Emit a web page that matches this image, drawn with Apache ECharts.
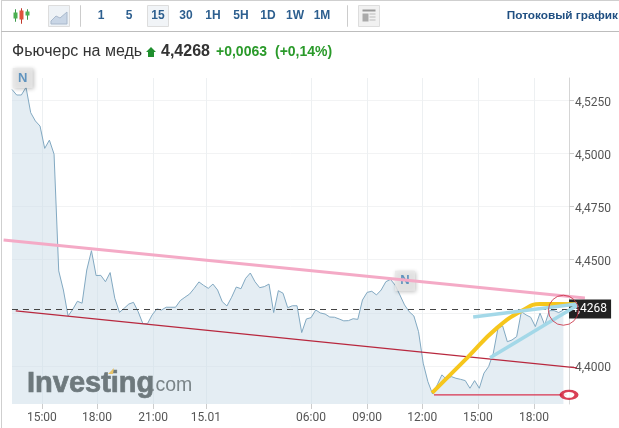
<!DOCTYPE html>
<html>
<head>
<meta charset="utf-8">
<style>html,body{margin:0;padding:0;background:#fff}#chart{width:619px;height:428px}</style>
<script src="https://cdn.jsdelivr.net/npm/echarts@6/dist/echarts.min.js"></script>
</head>
<body>
<div id="chart"></div>
<script>
// 15 minute closes, one per bar
var prices = [4.5300,4.5274,4.5274,4.5310,4.5191,4.5152,4.5128,4.5023,4.5062,4.4996,
  4.4447,4.4357,4.4235,4.4266,4.4304,4.4295,4.4451,4.4542,4.4425,4.4426,
  4.4396,4.4439,4.4318,4.4252,4.4271,4.4291,4.4299,4.4255,4.4199,4.4199,
  4.4240,4.4268,4.4263,4.4276,4.4276,4.4276,4.4307,4.4323,4.4338,4.4365,
  4.4395,4.4379,4.4365,4.4385,4.4357,4.4302,4.4282,4.4323,4.4371,4.4363,
  4.4412,4.4437,4.4396,4.4368,4.4373,4.4385,4.4251,4.4354,4.4342,4.4274,
  4.4283,4.4283,4.4157,4.4221,4.4227,4.4263,4.4249,4.4244,4.4230,4.4229,
  4.4221,4.4212,4.4213,4.4222,4.4219,4.4310,4.4346,4.4351,4.4334,4.4357,
  4.4396,4.4407,4.4380,4.4334,4.4287,4.4255,4.4235,4.4161,4.4013,4.3926,
  4.3868,4.3911,4.3958,4.3937,4.3950,4.3942,4.3937,4.3931,4.3895,4.3931,
  4.3895,4.3966,4.3997,4.4060,4.4177,4.4188,4.4114,4.4122,4.4138,4.4255,
  4.4240,4.4229,4.4185,4.4248,4.4193,4.4260,4.4260,4.4251,4.4263];
var lastPrice = 4.4268;

var xTickBars = [6.4,18.2,30.2,41.5,64,76,87.8,99.7,111.7];
var xTickLabels = ['15:00','18:00','21:00','15.01','06:00','09:00','12:00','15:00','18:00'];
var yTicks = [4.4000,4.4250,4.4500,4.4750,4.5000,4.5250];
var yTickLabels = ['4,4000','','4,4500','4,4750','4,5000','4,5250'];
var periods = ['1','5','15','30','1H','5H','1D','1W','1M'];

// hand drawn lines, [bar, price]
var pinkLine = [[-1.8,4.4592],[122.6,4.4320]];
var redLine = [[0.8,4.4259],[120.9,4.3991]];
var yellowCurve = [[89.9,4.3873],[97.4,4.4038],[103.8,4.4179],[109.4,4.4263],[113,4.4291],[116.7,4.4291],[120.9,4.4290]];
var blueUpper = [[98.7,4.4230],[120.9,4.4291]];
var blueLower = [[102.3,4.4038],[121.1,4.4287]];
var lowLine = [[90.3,4.3864],[118.7,4.3864]];
var lowMark = [[119.2,4.3864]];
var lastCircle = [[118,4.4262]];
var newsFlags = [[2.3,4.5354],[84.1,4.4400]];

var yMin = 4.3821, yMax = 4.5354;

// drawings run past the plot, so they sit on a wider hidden grid with the same scale
function seg(data, color, width, z, smooth) {
  return {type:'line', xAxisIndex:1, yAxisIndex:1, data:data, symbol:'none', clip:false, silent:true,
    smooth:smooth||false, z:z, lineStyle:{color:color, width:width}};
}

var chrome = [];
function txt(x, y, s, font, color, align, stroke) {
  chrome.push({type:'text', x:x, y:y, z:20, silent:true, style:{text:s, font:font, fill:color, align:align||'left', verticalAlign:'middle',
    stroke:stroke||null, lineWidth:stroke?0.7:0}});
}
function box(x, y, w, h, fill, stroke) {
  chrome.push({type:'rect', silent:true, shape:{x:x+0.5,y:y+0.5,width:w,height:h}, style:{fill:fill, stroke:stroke||null, lineWidth:1}});
}
// frame
box(1,0,0,428,null,'#cfcfcf');
box(1,0,618,0,null,'#cfcfcf');
box(1,31,618,0,null,'#bdbdbd');
box(80,5,0,21,null,'#cccccc');
box(347,5,0,21,null,'#cccccc');
// candle icon
box(15,9,0,12,null,'#3c9a4c'); box(13,12,4,6,'#4caf50');
box(21,8,0,15,null,'#c0392b'); box(19,10,4,9,'#e0533d');
box(27,9,0,10,null,'#3c9a4c'); box(25,11,4,4,'#4caf50');
// area icon
box(48,5,21,21,'#eef2f6','#dddddd');
chrome.push({type:'polygon', silent:true, shape:{points:[[51,21],[56,16],[60,18],[67,12],[67,24],[51,24]]}, style:{fill:'#c9d6e6', stroke:'#a9b9cc'}});
// selected period
box(147,5,21,21,'#f1f4f7','#dddddd');
var periodX = [101,129,158,186,213,241,268,295,322];
periods.forEach(function (p, i) { txt(periodX[i], 16, p, 'bold 12px "Liberation Sans"', '#2d5f8f', 'center'); });
// news icon
box(358,5,21,21,'#f1f1f1','#dddddd');
box(362,9,13,2,'#999999'); box(362,13,6,8,'#aaaaaa'); box(369,13,6,1,'#bbbbbb'); box(369,16,6,1,'#bbbbbb'); box(369,19,6,1,'#bbbbbb');
txt(618, 16, 'Потоковый график', 'bold 11.8px "Liberation Sans"', '#1f4f82', 'right');
// quote line
txt(12, 52, 'Фьючерс на медь', '16px "Liberation Sans"', '#333333');
chrome.push({type:'polygon', silent:true, shape:{points:[[151,47],[156,52],[154,52],[154,57],[148,57],[148,52],[146,52]]}, style:{fill:'#1f8f2e'}});
txt(161, 52, '4,4268', 'bold 16px "Liberation Sans"', '#333333');
txt(216, 52, '+0,0063', 'bold 14px "Liberation Sans"', '#2a9a2a');
txt(275, 52, '(+0,14%)', 'bold 14px "Liberation Sans"', '#2a9a2a');
// logo
txt(27, 384, 'Investing', 'bold 29px "Liberation Sans"', '#6e797d', 'left', '#6e797d');
txt(150, 386, '.com', '19.5px "Liberation Sans"', '#7a8488');
chrome.push({type:'polygon', z:21, silent:true, shape:{points:[[108,374],[114,368],[113,374]]}, style:{fill:'#e8c46a'}});

var chart = echarts.init(document.getElementById('chart'), null, {renderer:'canvas'});
chart.setOption({
  animation:false,
  backgroundColor:'#ffffff',
  textStyle:{fontFamily:'Roboto'},
  graphic:chrome,
  grid:[{left:12, right:50, top:78, bottom:24}, {left:0, right:0, top:78, bottom:24}],
  xAxis:[{type:'value', min:0, max:119.2,
    axisLine:{show:false},
    axisTick:{show:true, customValues:xTickBars, length:5, lineStyle:{color:'#cccccc'}},
    splitLine:{show:true, lineStyle:{color:'#edf0f2', width:1}},
    axisLabel:{customValues:xTickBars, margin:8, fontSize:12, color:'#555555',
      formatter:function (v) { return xTickLabels[xTickBars.indexOf(v)]; }}},
    {type:'value', gridIndex:1, min:-2.568, max:129.9, show:false}],
  yAxis:[{type:'value', position:'right', min:yMin, max:yMax,
    axisLine:{show:true, onZero:false, lineStyle:{color:'#d5d5d5'}},
    axisTick:{show:true, customValues:yTicks, length:5, lineStyle:{color:'#cccccc'}},
    splitLine:{show:true, lineStyle:{color:'#f2f3f4', width:1}},
    axisLabel:{customValues:yTicks, margin:6,
      rich:{t:{fontSize:12, fontFamily:'Roboto', color:'#555555', padding:[5,0,0,0]}},
      formatter:function (v) { var s = yTickLabels[yTicks.indexOf(v)]; return s ? '{t|' + s + '}' : ''; }}},
    {type:'value', gridIndex:1, min:yMin, max:yMax, show:false}],
  series:[
    {type:'line', data:prices.map(function (p, i) { return [i, p]; }), symbol:'none', silent:true, z:2,
      lineStyle:{color:'#82a9c2', width:1},
      areaStyle:{color:'#c9dbe7', opacity:0.5, origin:'start'},
      markLine:{silent:true, symbol:'none', animation:false, precision:4,
        lineStyle:{color:'#444444', type:[6,5], width:1},
        label:{show:true, position:'end', distance:0, formatter:'4,4268', color:'#ffffff',
          backgroundColor:'#222222', padding:[4,4,3,2], fontSize:12, fontFamily:'Roboto'},
        data:[{yAxis:lastPrice}]}},
    {type:'scatter', xAxisIndex:1, yAxisIndex:1, data:newsFlags, symbol:'rect', symbolSize:[20,20], silent:true, z:3, clip:false,
      itemStyle:{color:'#e8e8e8', shadowBlur:4, shadowColor:'rgba(0,0,0,0.3)', shadowOffsetX:1, shadowOffsetY:1},
      label:{show:true, position:'inside', formatter:'N', color:'#3f7fb5', fontWeight:'bold', fontSize:13, fontFamily:'Liberation Sans'}},
    seg(redLine, '#b8283e', 1.3, 4),
    seg(pinkLine, '#f4aac6', 3, 4),
    seg(lowLine, '#d8334f', 1.2, 4),
    seg(yellowCurve, '#f6c61c', 4, 6, 0.5),
    seg(blueUpper, '#a3d8e8', 3.5, 7),
    seg(blueLower, '#a3d8e8', 3.5, 7),
    {type:'scatter', xAxisIndex:1, yAxisIndex:1, data:lowMark, symbol:'circle', symbolSize:[15,8], silent:true, z:8, clip:false,
      itemStyle:{color:'#ffffff', borderColor:'#d0102c', borderWidth:3}},
    {type:'scatter', xAxisIndex:1, yAxisIndex:1, data:lastCircle, symbol:'circle', symbolSize:30, silent:true, z:8, clip:false,
      itemStyle:{color:'rgba(0,0,0,0)', borderColor:'#c8283c', borderWidth:1}}
  ]
});
</script>
</body>
</html>
